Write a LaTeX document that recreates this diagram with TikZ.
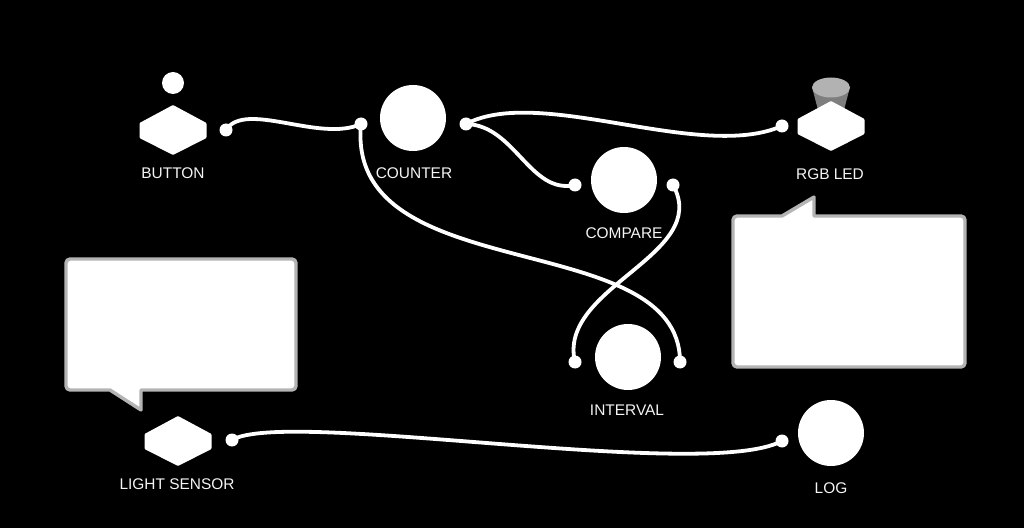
\documentclass[tikz,border=0pt]{standalone}
\usepackage{fontspec}
\setmainfont{Liberation Sans}
\usepackage{xcolor}
\usetikzlibrary{calc,positioning}
\definecolor{blackmain}{HTML}{000000}
\definecolor{labelwhite}{HTML}{F4F4F4}
\definecolor{boxedge}{HTML}{B4B4B4}
\definecolor{ledtop}{HTML}{B2B2B2}
\definecolor{ledside}{HTML}{7E7E7E}
\tikzset{
  every node/.append style={font=\fontsize{15.5}{18}\selectfont},
  blob/.style={circle,fill=white,inner sep=0pt,minimum size=66bp},
  port/.style={circle,fill=white,inner sep=0pt,minimum size=13bp},
  tag/.style={text=labelwhite,inner sep=0pt},
  wire/.style={white,line width=3.8bp},
  bubble/.style={draw=boxedge,fill=white,line width=3.4bp,line join=round},
  hexpart/.pic={\fill[white,rounded corners=1bp] (0,-25)--(33.5,-7)--(33.5,8)--(0,25)--(-33.5,8)--(-33.5,-7)--cycle;}
}
\begin{document}
\begin{tikzpicture}[x=1bp,y=-1bp]
  \fill[blackmain] (0,0) rectangle (1024,528);
  \useasboundingbox (0,0) rectangle (1024,528);
  % speech boxes
  \draw[bubble] (737,216) -- (782,216) -- (814,197) -- (814,216) -- (961,216)
    arc[start angle=-90,end angle=0,radius=4] -- (965,363)
    arc[start angle=0,end angle=90,radius=4] -- (737,367)
    arc[start angle=90,end angle=180,radius=4] -- (733,220)
    arc[start angle=180,end angle=270,radius=4] -- cycle;
  \draw[bubble] (70,259) -- (292,259)
    arc[start angle=-90,end angle=0,radius=4] -- (296,386)
    arc[start angle=0,end angle=90,radius=4] -- (141,390) -- (141,410) -- (110,390) -- (70,390)
    arc[start angle=90,end angle=180,radius=4] -- (66,263)
    arc[start angle=180,end angle=270,radius=4] -- cycle;
  % modules
  \node[blob,minimum size=22bp] (buttoncap) at (173,83) {};
  \pic at (173,130) {hexpart};
  \node[blob] (counter) at (413,118) {};
  \node[blob] (compare) at (624,180) {};
  \node[blob] (interval) at (628,357) {};
  \node[blob] (log) at (831,433) {};
  \fill[ledside] (812,87) -- (818,110) -- (844,110) -- (850,87) -- cycle;
  \fill[ledtop] (831,87.5) ellipse (19 and 10);
  \pic at (831,126) {hexpart};
  \pic at (178,441) {hexpart};
  % labels
  \node[tag] (buttontag) at (173,173) {BUTTON};
  \node[tag] (countertag) at (414,173) {COUNTER};
  \node[tag] (comparetag) at (624,233) {COMPARE};
  \node[tag] (ledtag) at (830,174) {RGB LED};
  \node[tag] (intervaltag) at (627,410.5) {INTERVAL};
  \node[tag] (sensortag) at (177,484.5) {LIGHT SENSOR};
  \node[tag] (logtag) at (831,488.5) {LOG};
  % ports
  \node[port] (buttonout) at (226,130) {};
  \node[port] (counterin) at (361,124) {};
  \node[port] (counterout) at (466,124) {};
  \node[port] (comparein) at (575,185) {};
  \node[port] (compareout) at (673,185) {};
  \node[port] (intervalin) at (575,362) {};
  \node[port] (intervalout) at (680,362) {};
  \node[port] (ledin) at (782,126) {};
  \node[port] (sensorout) at (232,440) {};
  \node[port] (login) at (782,441) {};
  % wires
  \draw[wire] (buttonout.center) .. controls (245,100) and (320,143) .. (counterin.center);
  \draw[wire] (counterin.center) .. controls (345,290) and (680,225) .. (intervalout.center);
  \draw[wire] (counterout.center) .. controls (540,85) and (700,162) .. (ledin.center);
  \draw[wire] (counterout.center) .. controls (515,125) and (530,195) .. (comparein.center);
  \draw[wire] (compareout.center) .. controls (712,255) and (557,287) .. (intervalin.center);
  \draw[wire] (sensorout.center) .. controls (285,408) and (705,482) .. (login.center);
\end{tikzpicture}
\end{document}
